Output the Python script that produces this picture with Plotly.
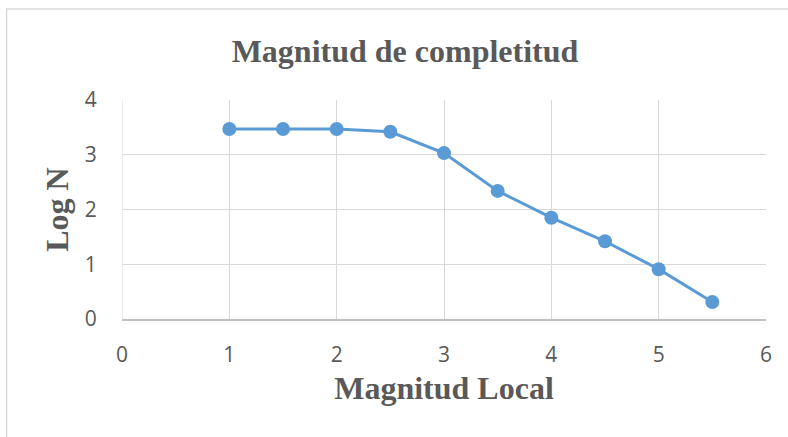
import plotly.graph_objects as go

# Local magnitude bins and cumulative log count
magnitud_local = [1, 1.5, 2, 2.5, 3, 3.5, 4, 4.5, 5, 5.5]
log_n = [3.47, 3.47, 3.47, 3.42, 3.03, 2.34, 1.85, 1.42, 0.91, 0.31]

x_ticks = [0, 1, 2, 3, 4, 5, 6]
y_ticks = [0, 1, 2, 3, 4]

text_color = "#595959"
grid_color = "#d9d9d9"
serif = "Liberation Serif, Times New Roman, serif"
sans = "Open Sans"

fig = go.Figure()
fig.add_trace(go.Scatter(
    x=magnitud_local,
    y=log_n,
    mode="lines+markers",
    line=dict(color="#5b9bd5", width=3),
    marker=dict(color="#5b9bd5", size=14),
    showlegend=False,
    hoverinfo="x+y",
))

fig.update_layout(
    width=788,
    height=437,
    paper_bgcolor="white",
    plot_bgcolor="white",
    margin=dict(l=121.5, r=22, t=100, b=118),
    title=dict(
        text="<b>Magnitud de completitud</b>",
        font=dict(family=serif, size=32, color=text_color),
        x=405 / 788, xanchor="center",
        y=1 - 51 / 437, yanchor="middle",
        xref="container",
    ),
    xaxis=dict(
        range=[0, 6],
        tickvals=x_ticks,
        showgrid=True, gridcolor=grid_color, gridwidth=1,
        zeroline=False,
        showline=True, linecolor="#bfbfbf", linewidth=1.5,
        ticks="outside", ticklen=16, tickcolor="rgba(0,0,0,0)",
        tickfont=dict(family=sans, size=21, color=text_color),
        title=dict(text="<b>Magnitud Local</b>",
                   font=dict(family=serif, size=32, color=text_color),
                   standoff=10),
    ),
    yaxis=dict(
        range=[0, 4],
        tickvals=y_ticks,
        showgrid=True, gridcolor=grid_color, gridwidth=1,
        zeroline=False,
        showline=False,
        ticks="outside", ticklen=20, tickcolor="rgba(0,0,0,0)",
        tickfont=dict(family=sans, size=21, color=text_color),
        title=dict(text="<b>Log N</b>",
                   font=dict(family=serif, size=32, color=text_color),
                   standoff=6),
    ),
    shapes=[dict(
        type="rect", xref="paper", yref="paper",
        x0=-115.5 / 644.5, x1=1.05, y0=-0.6, y1=1 + 91 / 219,
        line=dict(color="#d9d9d9", width=1.5),
        fillcolor="rgba(0,0,0,0)", layer="below",
    )],
)

# vertical grid line at x=0 drawn like the others
fig.add_vline(x=0, line=dict(color=grid_color, width=1), layer="below")

fig.write_html("out.html")
